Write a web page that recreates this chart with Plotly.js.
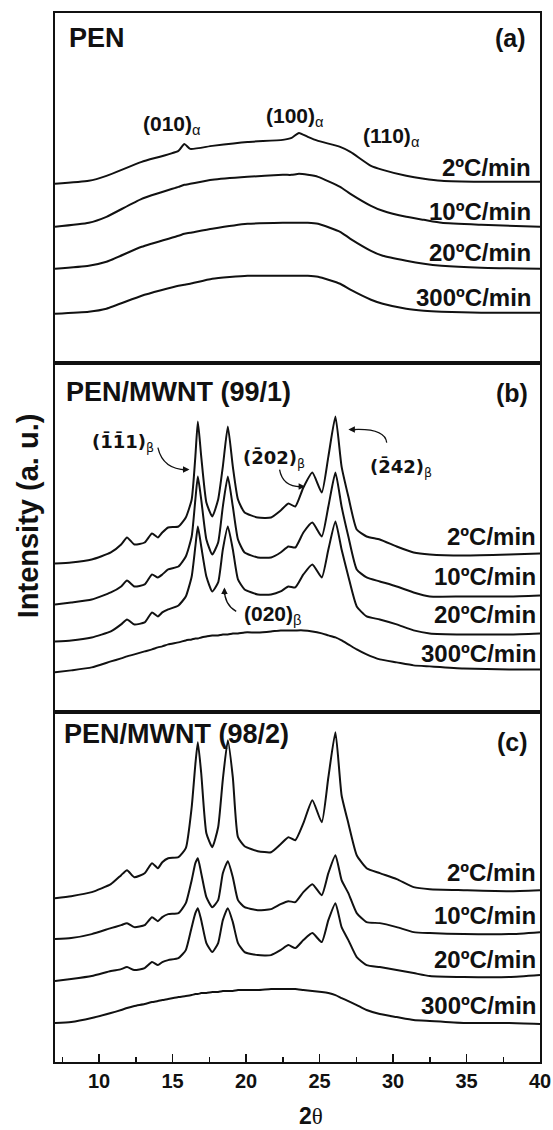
<!DOCTYPE html>
<html>
<head>
<meta charset="utf-8">
<script src="https://cdn.plot.ly/plotly-3.0.1.min.js"></script>
<style>html,body{margin:0;padding:0;background:#fff}#chart{width:553px;height:1130px}</style>
</head>
<body>
<div id="chart"></div>
<script>
// ---------- DATA (intensity in a.u. incl. stacking offset) ----------
// Panel (a) PEN
var xA = [7, 9.3, 10.5, 12.9, 15.4, 15.8, 16.2, 17.7, 20.1, 22.5, 23.1, 23.6, 24.2, 24.9, 26.4, 27.1, 28.5, 29.3, 30.9, 32.1, 33.3, 36, 40];
var pen_2   = [179, 182, 187, 201, 212, 219, 214, 217, 221, 223, 225, 230, 226, 222, 216, 211, 197, 193, 187, 184, 182, 181, 181];
var pen_10  = [136, 140, 146, 164, 176, 178, 179, 183, 186, 188, 188, 189, 188, 186, 176, 169, 157, 152, 146, 143, 140, 138, 136];
var pen_20  = [94, 97, 101, 116, 127, 129, 130, 134, 139, 140, 140, 140, 140, 139, 131, 124, 112, 107, 102, 99, 97, 95, 94];
var pen_300 = [49, 51, 54, 67, 77, 78, 79, 84, 87, 87, 87, 87, 87, 86, 79, 73, 63, 59, 54, 52, 51, 50, 50];

// Panels (b) and (c) share one 2-theta grid
var xB = [7, 8.1, 9.5, 10.8, 11.5, 11.9, 12.4, 13.1, 13.6, 14.0, 14.3, 14.7, 15.4, 15.9, 16.3, 16.55, 16.72, 16.95, 17.3, 17.7,
          18.1, 18.42, 18.76, 19.1, 19.45, 19.9, 20.8, 21.7, 22.35, 22.88, 23.35, 23.9, 24.51, 25.15, 25.6, 26.08, 26.5, 26.96,
          27.53, 28.2, 29.1, 30.25, 31.4, 32.5, 34.8, 37.9, 40];
// Panel (b) PEN/MWNT (99/1)
var mw1_2   = [149, 150, 153, 160, 168, 175, 168, 170, 179, 175, 180, 185, 186, 195, 213, 256, 291, 256, 210, 196, 213, 246, 286, 246, 213, 200, 195, 195, 202, 209, 206, 225, 240, 220, 256, 296, 246, 216, 183, 176, 173, 166, 160, 158, 157, 158, 159];
var mw1_10  = [108, 110, 113, 120, 126, 132, 126, 128, 138, 135, 138, 143, 146, 156, 176, 213, 236, 213, 173, 158, 170, 206, 236, 206, 173, 160, 155, 155, 160, 166, 165, 180, 190, 176, 206, 240, 206, 176, 143, 135, 131, 126, 120, 116, 116, 116, 117];
var mw1_20  = [71, 72, 75, 81, 88, 93, 88, 90, 100, 96, 100, 103, 107, 116, 136, 166, 186, 166, 136, 121, 130, 163, 186, 163, 133, 123, 118, 118, 121, 126, 125, 138, 148, 135, 163, 191, 163, 136, 106, 96, 93, 88, 82, 79, 78, 78, 79];
var mw1_300 = [40, 42, 45, 51, 54, 56, 58, 61, 63, 65, 66, 68, 70, 72, 73, 74, 74, 75, 76, 77, 77, 78, 78, 79, 79, 80, 80, 81, 82, 82, 82, 82, 81, 79, 77, 75, 72, 68, 63, 58, 53, 50, 47, 46, 44, 43, 43];
// Panel (c) PEN/MWNT (98/2)
var mw2_2   = [164, 166, 170, 178, 187, 192, 185, 189, 199, 194, 200, 204, 205, 214, 255, 298, 320, 289, 229, 215, 235, 283, 322, 285, 225, 216, 211, 210, 218, 225, 222, 239, 262, 240, 285, 330, 267, 239, 207, 194, 189, 183, 175, 173, 172, 171, 172];
var mw2_10  = [123, 124, 128, 134, 137, 139, 135, 137, 145, 141, 145, 148, 149, 159, 182, 199, 204, 189, 165, 155, 162, 189, 201, 185, 162, 155, 152, 153, 158, 161, 160, 170, 178, 167, 189, 207, 182, 169, 149, 140, 139, 135, 130, 129, 128, 128, 130];
var mw2_20  = [81, 83, 86, 91, 93, 95, 92, 94, 100, 97, 100, 102, 104, 112, 135, 149, 154, 142, 119, 110, 119, 142, 154, 140, 119, 110, 107, 107, 112, 117, 114, 122, 129, 120, 142, 159, 135, 122, 105, 97, 95, 92, 89, 86, 85, 85, 87];
var mw2_300 = [39, 40, 44, 49, 52, 54, 56, 58, 60, 61, 62, 63, 65, 66, 67, 68, 68, 69, 69, 70, 70, 71, 71, 71, 72, 72, 72, 73, 73, 73, 73, 72, 71, 70, 69, 67, 64, 61, 57, 52, 48, 45, 42, 41, 39, 39, 38];

var rateLabels  = ['2ºC/min', '10ºC/min', '20ºC/min', '300ºC/min'];
var panelTitles = ['PEN', 'PEN/MWNT (99/1)', 'PEN/MWNT (98/2)'];
var panelTags   = ['(a)', '(b)', '(c)'];
var xTickVals   = [10, 15, 20, 25, 30, 35, 40];

// ---------- PLOT ----------
var F = 'Liberation Sans, Arial, Helvetica, sans-serif';
var FD = 'DejaVu Sans, Liberation Sans, sans-serif';
var lineStyle = {color: '#111', width: 2, shape: 'spline', smoothing: 0.5};

function tr(x, y, xa, ya) {
  return {x: x, y: y, xaxis: xa, yaxis: ya, type: 'scatter', mode: 'lines', line: lineStyle, hoverinfo: 'skip', showlegend: false};
}
var data = [
  tr(xA, pen_2, 'x3', 'y3'), tr(xA, pen_10, 'x3', 'y3'), tr(xA, pen_20, 'x3', 'y3'), tr(xA, pen_300, 'x3', 'y3'),
  tr(xB, mw1_2, 'x2', 'y2'), tr(xB, mw1_10, 'x2', 'y2'), tr(xB, mw1_20, 'x2', 'y2'), tr(xB, mw1_300, 'x2', 'y2'),
  tr(xB, mw2_2, 'x', 'y'), tr(xB, mw2_10, 'x', 'y'), tr(xB, mw2_20, 'x', 'y'), tr(xB, mw2_300, 'x', 'y')
];

var boxAxis = {showline: true, mirror: true, linewidth: 2, linecolor: '#111', showgrid: false, zeroline: false};
function yax(dom) {
  return Object.assign({domain: dom, range: [0, 350], showticklabels: false, ticks: '', fixedrange: true}, boxAxis);
}
function xax(anchor) {
  return Object.assign({anchor: anchor, range: [7, 40], showticklabels: false, ticks: ''}, boxAxis);
}

var xMain = Object.assign({
  anchor: 'y', range: [7, 40], tickmode: 'array', tickvals: xTickVals,
  ticktext: xTickVals.map(function (v) { return '<b>' + v + '</b>'; }),
  ticks: 'inside', ticklen: 8, tickwidth: 1.5, tickcolor: '#111',
  minor: {ticks: 'inside', tickmode: 'linear', tick0: 0, dtick: 2.5, ticklen: 5, tickwidth: 1.5, tickcolor: '#111'},
  tickfont: {family: F, size: 20, color: '#111', weight: 'bold'}
}, boxAxis);

var ann = [];
function txt(text, xref, yref, x, y, size, xanchor, fam) {
  ann.push({text: text, xref: xref, yref: yref, x: x, y: y, showarrow: false,
    xanchor: xanchor || 'left', yanchor: 'middle', font: {family: fam || F, size: size, color: '#111'}});
}
// rate labels per panel
var refs = [['x3', 'y3', 39.55, [195, 151.5, 110.7, 65]], ['x2', 'y2', 39.85, [176, 136, 98, 59]], ['x', 'y', 39.85, [190, 147, 103, 57]]];
refs.forEach(function (r) {
  rateLabels.forEach(function (lab, i) { txt('<b>' + lab + '</b>', r[0], r[1], r[2], r[3][i], 24, 'right'); });
});
// panel titles and tags
txt('<b>' + panelTitles[0] + '</b>', 'x3', 'y3', 7.8, 325, 27, 'left');
txt('<b>' + panelTitles[1] + '</b>', 'x2', 'y2', 7.6, 320.5, 27, 'left');
txt('<b>' + panelTitles[2] + '</b>', 'x', 'y', 7.5, 328, 27, 'left');
txt('<b>' + panelTags[0] + '</b>', 'x3', 'y3', 39.15, 325, 25, 'right');
txt('<b>' + panelTags[1] + '</b>', 'x2', 'y2', 39.3, 320, 25, 'right');
txt('<b>' + panelTags[2] + '</b>', 'x', 'y', 39.3, 320, 25, 'right');
// reflections, panel (a)
txt('<b>(010)</b><sub>α</sub>', 'x3', 'y3', 12.85, 238, 21, 'left');
txt('<b>(100)</b><sub>α</sub>', 'x3', 'y3', 21.25, 246, 21, 'left');
txt('<b>(110)</b><sub>α</sub>', 'x3', 'y3', 27.8, 226, 21, 'left');
// reflections, panel (b) (barred indices in DejaVu Sans for correct mark placement)
txt('<b>(1\u03041\u03041)</b><sub>β</sub>', 'x2', 'y2', 9.35, 270, 18, 'left', FD);
txt('<b>(2\u030402)</b><sub>β</sub>', 'x2', 'y2', 19.65, 254, 18, 'left', FD);
txt('<b>(2\u030442)</b><sub>β</sub>', 'x2', 'y2', 28.3, 245, 18, 'left', FD);
txt('<b>(020)</b><sub>β</sub>', 'x2', 'y2', 19.75, 97, 21, 'left');
// arrowheads
function head(x, y, ax, ay) {
  ann.push({xref: 'x2', yref: 'y2', x: x, y: y, ax: ax, ay: ay, text: '', showarrow: true,
    arrowhead: 2, arrowsize: 1, arrowwidth: 1.3, arrowcolor: '#111', standoff: 0});
}
head(16.15, 243, -9, 0);
head(24.02, 226, -9, 0);
head(26.96, 283, 9, 0);
head(18.53, 125, 0, 9);
// axis titles
ann.push({text: '<b>Intensity (a. u.)</b>', xref: 'paper', yref: 'paper', x: -0.054, y: 0.521, textangle: -90,
  showarrow: false, xanchor: 'center', yanchor: 'middle', font: {family: F, size: 29, color: '#111'}});
ann.push({text: '<b>2</b><span style="font-family:Liberation Serif, DejaVu Serif, serif">θ</span>', xref: 'paper', yref: 'paper',
  x: 0.528, y: -0.0648, showarrow: false, xanchor: 'center', yanchor: 'bottom', borderpad: 0,
  font: {family: F, size: 23, color: '#111'}});

// curved arrow bodies
function curve(x0, y0, cx, cy, x1, y1) {
  return {type: 'path', xref: 'x2', yref: 'y2', path: 'M ' + x0 + ',' + y0 + ' Q ' + cx + ',' + cy + ' ' + x1 + ',' + y1,
    line: {color: '#111', width: 1.3}};
}
var shapes = [
  curve(14.0, 265, 14.35, 243, 15.95, 243),
  curve(22.28, 243, 22.5, 225, 23.85, 226),
  curve(29.57, 270, 29.45, 285, 27.15, 283),
  curve(19.33, 101, 18.52, 108, 18.53, 123)
];

var layout = {
  width: 553, height: 1130,
  margin: {l: 55, r: 13, t: 13, b: 68},
  paper_bgcolor: '#fff', plot_bgcolor: '#fff',
  xaxis: xMain, yaxis: yax([0, 1 / 3]),
  xaxis2: xax('y2'), yaxis2: yax([1 / 3, 2 / 3]),
  xaxis3: xax('y3'), yaxis3: yax([2 / 3, 1]),
  annotations: ann, shapes: shapes, showlegend: false
};
Plotly.newPlot('chart', data, layout, {staticPlot: true, displayModeBar: false});
</script>
</body>
</html>
